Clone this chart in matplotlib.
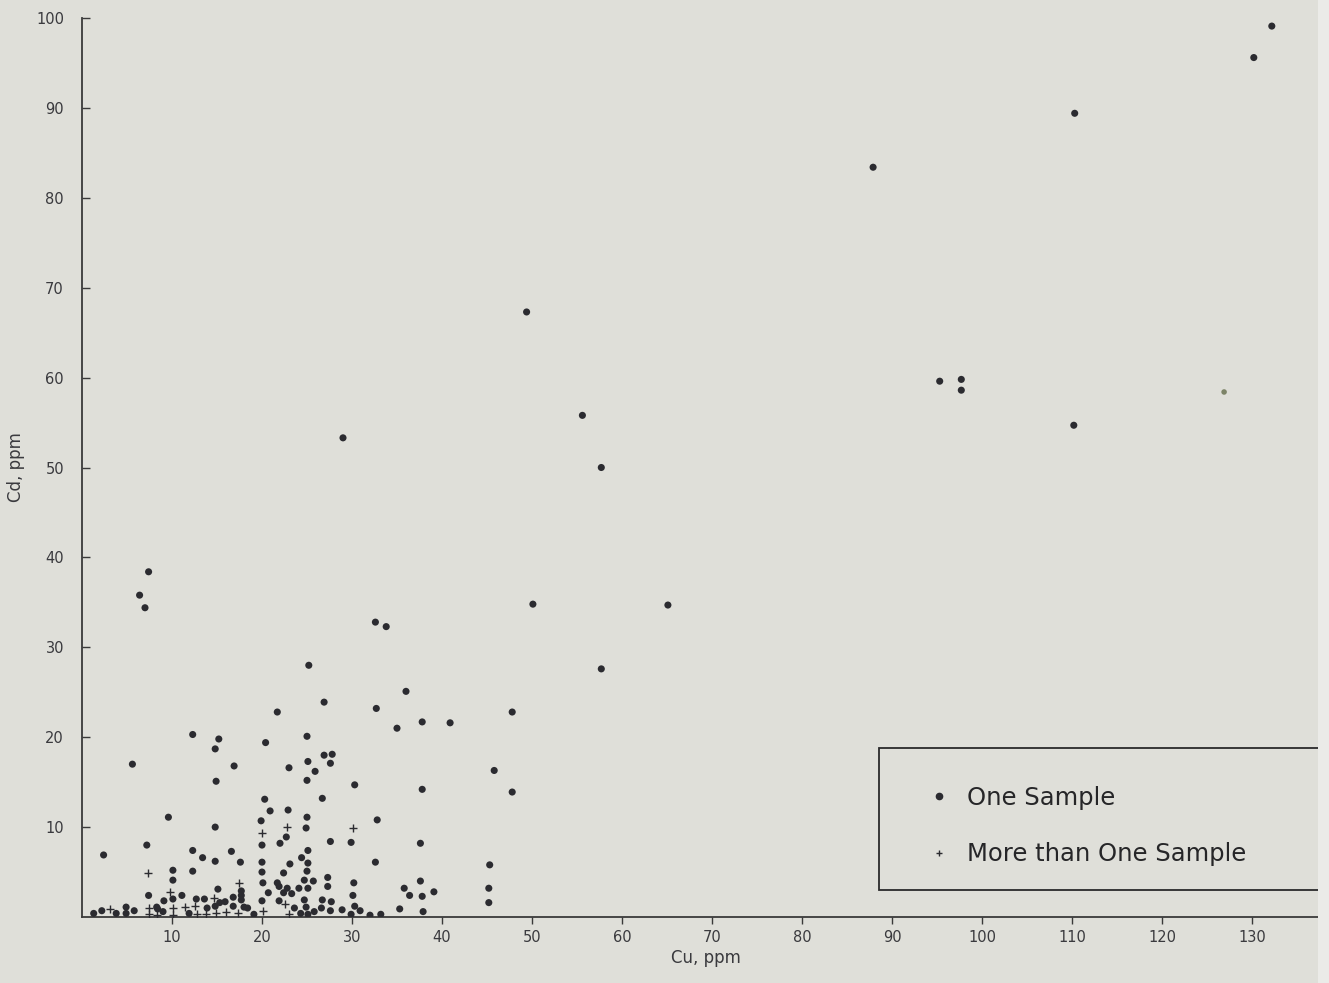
import matplotlib
matplotlib.use("Agg")
import matplotlib.pyplot as plt
from matplotlib.lines import Line2D
from matplotlib.patches import Rectangle

plt.rcParams['font.family'] = ['DejaVu Sans']

# One-sample points (Cu ppm, Cd ppm)
one_cu = [132.2, 130.2, 110.3, 87.9, 49.4, 95.3, 97.7, 97.7, 110.2, 29.0, 55.6, 57.7,
          7.4, 6.4, 7.0, 50.1, 65.1, 32.6, 33.8, 57.7, 25.2, 36.0, 26.9, 32.7, 21.7,
          47.8, 37.8, 40.9, 35.0, 12.3, 15.2, 20.4, 14.8, 25.0, 26.9, 27.8, 27.6, 25.1,
          23.0, 25.9, 5.6, 16.9, 45.8, 14.9, 25.0, 30.3, 37.8, 47.8, 26.7, 20.3, 9.6,
          20.9, 22.9, 25.0, 32.8, 19.9, 14.8, 24.9,
          20.0, 22.0, 22.7, 2.4, 7.2, 12.3, 16.6, 13.4, 14.8, 17.6, 20.0, 27.6, 29.9,
          37.6, 25.1, 24.4, 25.1, 23.1, 22.4, 25.0, 32.6, 45.3, 10.1, 12.3, 10.1, 20.0,
          20.1, 17.7, 17.7, 17.7, 21.7, 20.7, 20.0, 21.9, 15.1, 7.4, 11.1, 10.1, 9.1,
          12.7, 13.6, 16.8, 15.9, 15.3, 14.8, 13.9, 16.8, 18.0, 18.4, 19.1, 11.9, 8.3,
          8.4, 9.0, 5.8, 4.9, 4.9, 3.8, 2.2, 1.3, 24.7, 25.7, 27.3, 27.3, 30.2, 37.6,
          21.9, 22.8, 24.1, 25.1, 22.4, 23.3, 35.8, 36.4, 37.8, 39.1, 45.2, 45.2, 30.1,
          24.7, 26.7, 27.7, 23.6, 24.9, 26.6, 30.3, 24.3, 25.1, 25.8, 27.6, 28.9, 29.9,
          30.9, 32.0, 33.2, 35.3, 37.9]
one_cd = [99.1, 95.6, 89.4, 83.4, 67.3, 59.6, 59.8, 58.6, 54.7, 53.3, 55.8, 50.0,
          38.4, 35.8, 34.4, 34.8, 34.7, 32.8, 32.3, 27.6, 28.0, 25.1, 23.9, 23.2, 22.8,
          22.8, 21.7, 21.6, 21.0, 20.3, 19.8, 19.4, 18.7, 20.1, 18.0, 18.1, 17.1, 17.3,
          16.6, 16.2, 17.0, 16.8, 16.3, 15.1, 15.2, 14.7, 14.2, 13.9, 13.2, 13.1, 11.1,
          11.8, 11.9, 11.1, 10.8, 10.7, 10.0, 9.9,
          8.0, 8.2, 8.9, 6.9, 8.0, 7.4, 7.3, 6.6, 6.2, 6.1, 6.1, 8.4, 8.3,
          8.2, 7.4, 6.6, 6.0, 5.9, 4.9, 5.1, 6.1, 5.8, 5.2, 5.1, 4.1, 5.0,
          3.8, 2.9, 2.4, 1.9, 3.8, 2.7, 1.8, 1.8, 3.1, 2.4, 2.4, 2.0, 1.8,
          2.0, 2.0, 2.2, 1.7, 1.6, 1.2, 1.0, 1.2, 1.1, 1.0, 0.3, 0.4, 1.1,
          0.9, 0.6, 0.7, 1.1, 0.4, 0.4, 0.7, 0.4, 4.1, 4.0, 4.4, 3.4, 3.8, 4.0,
          3.4, 3.2, 3.2, 3.2, 2.7, 2.6, 3.2, 2.4, 2.3, 2.8, 3.2, 1.6, 2.4,
          1.9, 1.9, 1.7, 1.0, 1.1, 1.0, 1.2, 0.4, 0.3, 0.6, 0.7, 0.8, 0.3,
          0.7, 0.2, 0.3, 0.9, 0.6]

# Faded one-sample point
faded_cu = [126.9]
faded_cd = [58.4]

# More-than-one-sample points
multi_cu = [20.0, 7.3, 17.4, 9.8, 14.7, 16.0, 17.3, 20.1, 12.6, 11.4, 12.8, 13.8, 14.9,
            10.1, 10.1, 7.4, 7.4, 8.3, 3.1, 22.8, 30.1, 22.6, 23.0]
multi_cd = [9.3, 4.9, 3.8, 2.8, 2.1, 0.6, 0.4, 0.7, 1.2, 1.1, 0.3, 0.3, 0.4,
            1.0, 0.2, 1.0, 0.3, 0.2, 0.9, 10.0, 9.9, 1.4, 0.3]

xticks = [10, 20, 30, 40, 50, 60, 70, 80, 90, 100, 110, 120, 130]
yticks = [10, 20, 30, 40, 50, 60, 70, 80, 90, 100]

W, H = 1329, 983
bg = '#dfdfd9'
ink = '#2b2b30'
txt = '#3a3a3e'

fig = plt.figure(figsize=(W / 100, H / 100), dpi=100, facecolor=bg)
ax = fig.add_axes([82 / W, 1 - 917 / H, 1 - 82 / W, (917 - 18) / H])
ax.set_facecolor(bg)

ax.scatter(one_cu, one_cd, s=26, color=ink, edgecolors='none', zorder=3)
ax.scatter(faded_cu, faded_cd, s=16, color='#7d8468', edgecolors='none', zorder=3)
ax.scatter(multi_cu, multi_cd, s=28, marker='+', color=ink, linewidths=1.0, zorder=3)

ax.set_xlim(0, (W - 82) / 9)
ax.set_ylim(0, 100)

for s in ['top', 'right']:
    ax.spines[s].set_visible(False)
for s in ['left', 'bottom']:
    ax.spines[s].set_color('#3a3a3a')
    ax.spines[s].set_linewidth(1.3)

ax.set_xticks(xticks)
ax.set_yticks(yticks)
ax.tick_params(axis='x', direction='out', length=5, width=1, colors='#3a3a3a',
               labelsize=10.5, labelcolor=txt, pad=4)
ax.tick_params(axis='y', direction='in', length=6, width=1, colors='#3a3a3a',
               labelsize=10.5, labelcolor=txt, pad=13)

ax.set_xlabel('Cu, ppm', fontsize=12, color=txt, labelpad=3)
ax.set_ylabel('Cd, ppm', fontsize=12, color=txt, labelpad=8)

# Legend box (extends past right edge)
rect = Rectangle((879 / W, 1 - 890 / H), 500 / W, 142 / H, transform=fig.transFigure,
                 facecolor=bg, edgecolor='#2a2a2a', linewidth=1.3, zorder=5,
                 clip_on=False)
ax.add_patch(rect)
handles = [Line2D([], [], marker='o', linestyle='none', color=ink, markersize=4.5),
           Line2D([], [], marker='+', linestyle='none', color=ink, markersize=5,
                  markeredgewidth=1)]
leg = ax.legend(handles, ['One Sample', 'More than One Sample'],
                loc='upper left', bbox_to_anchor=(879 / W, 1 - 748 / H),
                bbox_transform=fig.transFigure, frameon=False, fontsize=17.5,
                labelspacing=1.33, borderpad=1.56, borderaxespad=0,
                handlelength=1.81, handletextpad=0.25, labelcolor='#262628')
leg.set_zorder(6)

# page edge at right
fig.patches.append(Rectangle((1318 / W, 0), 11 / W, 1, transform=fig.transFigure,
                             facecolor='#ebebe8', edgecolor='none', zorder=10))

fig.savefig('out.png', dpi=100, facecolor=bg)
